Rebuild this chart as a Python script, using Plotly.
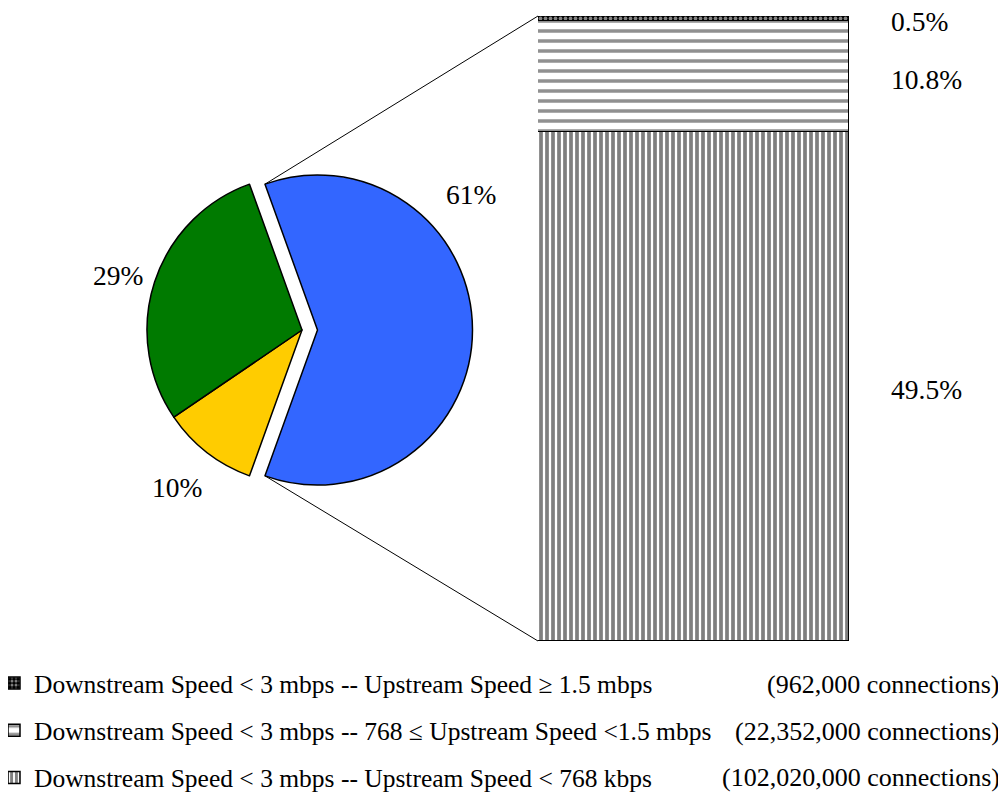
import math
import plotly.graph_objects as go

# ---------------- data ----------------
pie_labels = ["Downstream Speed < 3 mbps", "Other (yellow)", "Other (green)"]
pie_values = [61, 10, 29]
pie_text = ["61%", "10%", "29%"]

bar_names = [
    "Downstream Speed &lt; 3 mbps -- Upstream Speed &lt; 768 kbps",
    "Downstream Speed &lt; 3 mbps -- 768 ≤ Upstream Speed &lt;1.5 mbps",
    "Downstream Speed &lt; 3 mbps -- Upstream Speed ≥ 1.5 mbps",
]
bar_values = [49.5, 10.8, 0.5]
bar_text = ["49.5%", "10.8%", "0.5%"]
connections = [102020000, 22352000, 962000]

# ---------------- styling / layout ----------------
OFF = 8                      # default page body margin
W, H = 1006 - OFF, 792 - OFF
FONT = "Liberation Serif"
pie_colors = ["#3366FF", "#FFCC00", "#007A00"]
patterns = [
    dict(shape="|", size=6, solidity=0.62, fgcolor="black", bgcolor="white"),
    dict(shape="-", size=10, solidity=0.35, fgcolor="#222222", bgcolor="white"),
    dict(shape=".", size=5, solidity=0.45, fgcolor="white", bgcolor="black"),
]


def px(x):
    return (x - OFF) / W


def py(y):
    return 1 - (y - OFF) / H


pie_cx, pie_cy, pie_half = 302, 330, 170.5
pull = 0.1
bar_left, bar_right, bar_top, bar_bottom = 538, 849, 16, 641

fig = go.Figure()

total_pie = sum(pie_values)
rotation = 90 - 360 * pie_values[0] / total_pie / 2

fig.add_trace(go.Pie(
    labels=pie_labels, values=pie_values, sort=False, direction="clockwise",
    rotation=rotation, pull=[pull, 0, 0],
    marker=dict(colors=pie_colors, line=dict(color="black", width=1.5)),
    textinfo="none", hoverinfo="skip", showlegend=False,
    domain=dict(x=[px(pie_cx - pie_half), px(pie_cx + pie_half)],
                y=[py(pie_cy + pie_half), py(pie_cy - pie_half)]),
))

n_bar = len(bar_values)
for i, (name, val, pat) in enumerate(zip(bar_names, bar_values, patterns)):
    fig.add_trace(go.Bar(
        x=[0], y=[val], name=name, width=1, legendgroup=name,
        legendrank=n_bar - i,
        marker=dict(color="white", pattern=pat, line=dict(color="black", width=1.5)),
        hoverinfo="skip",
    ))

bar_total = sum(bar_values)

# connector lines computed from the pie geometry and the bar extent
r = pie_half / (1 + pull)
a0 = math.radians(rotation)
a1 = math.radians(rotation + 360 * pie_values[0] / total_pie)
am = (a0 + a1) / 2
ccx = pie_cx + pull * r * math.sin(am)
ccy = pie_cy - pull * r * math.cos(am)
p_top = (ccx + r * math.sin(a0), ccy - r * math.cos(a0))
p_bot = (ccx + r * math.sin(a1), ccy - r * math.cos(a1))
shapes = [
    dict(type="line", xref="paper", yref="paper",
         x0=px(p_top[0]), y0=py(p_top[1]), x1=px(bar_left), y1=py(bar_top),
         line=dict(color="black", width=1)),
    dict(type="line", xref="paper", yref="paper",
         x0=px(p_bot[0]), y0=py(p_bot[1]), x1=px(bar_left), y1=py(bar_bottom),
         line=dict(color="black", width=1)),
]

annotations = []
# pie labels
pie_label_pos = [(471, 195), (177, 487), (118, 275)]
for t, (x, y) in zip(pie_text, pie_label_pos):
    annotations.append(dict(text=t, x=px(x), y=py(y), xref="paper", yref="paper",
                            xanchor="center", yanchor="middle", showarrow=False,
                            font=dict(size=27.5, family=FONT, color="black")))
# bar labels
cum = 0
for v, t in zip(bar_values, bar_text):
    mid = cum + v / 2
    cum += v
    annotations.append(dict(text=t, x=px(890), y=mid, xref="paper", yref="y",
                            xanchor="left", yanchor="middle", yshift=-3, borderpad=0,
                            showarrow=False,
                            font=dict(size=27.5, family=FONT, color="black")))
# connection counts next to legend rows (legend shows top segment first)
row_y = [684, 731, 777]
for n, y in zip(connections[::-1], row_y):
    annotations.append(dict(text=f"({n:,} connections)", x=px(1002), y=py(y),
                            xref="paper", yref="paper", xanchor="right", yanchor="middle",
                            showarrow=False,
                            font=dict(size=26, family=FONT, color="black")))

fig.update_layout(
    width=W, height=H, margin=dict(l=0, r=0, t=0, b=0, autoexpand=False),
    paper_bgcolor="white", plot_bgcolor="white",
    barmode="stack", bargap=0,
    xaxis=dict(domain=[px(bar_left), px(bar_right)], range=[-0.5, 0.5], visible=False, fixedrange=True),
    yaxis=dict(domain=[py(bar_bottom), py(bar_top)], range=[0, bar_total], visible=False, fixedrange=True),
    legend=dict(x=px(-6), y=py(660), xanchor="left", yanchor="top",
                traceorder="grouped",
                tracegroupgap=11, bgcolor="rgba(0,0,0,0)",
                font=dict(size=25.5, family=FONT, color="black")),
    shapes=shapes, annotations=annotations,
    font=dict(family=FONT),
)

fig.write_html("out.html")
